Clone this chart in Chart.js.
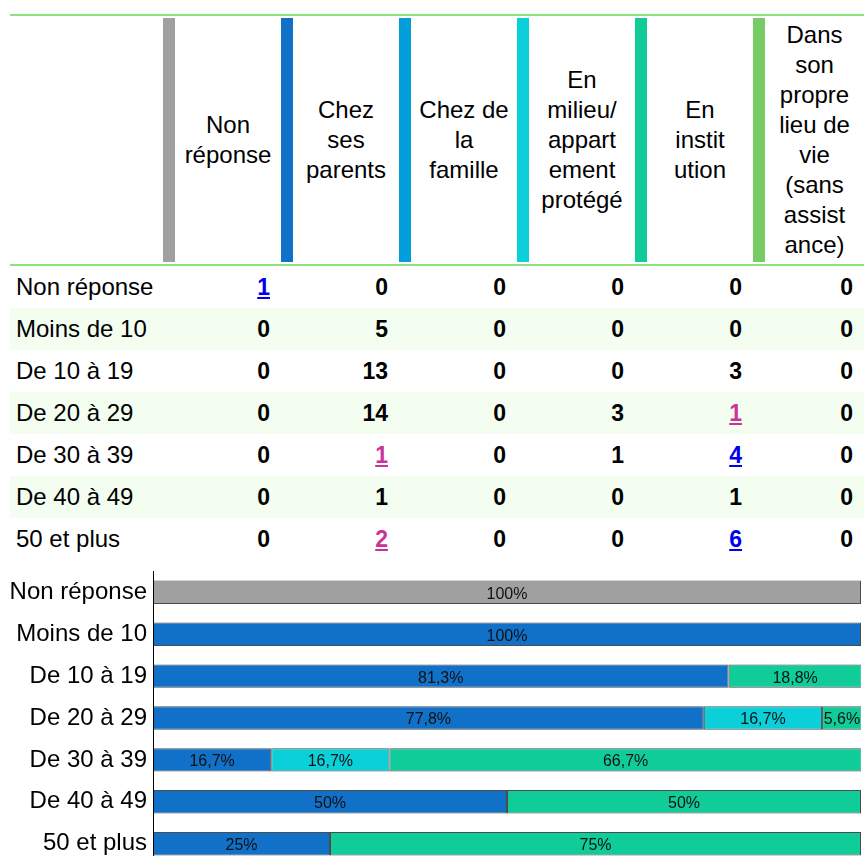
<!DOCTYPE html>
<html lang="fr">
<head>
<meta charset="utf-8">
<title>Lieu de vie par tranche d'âge</title>
<script src="https://cdn.jsdelivr.net/npm/chart.js@4/dist/chart.umd.min.js"></script>
<style>
    html, body {
        margin: 0;
        width: 864px;
        height: 856px;
        overflow: hidden;
        background: #fff;
        font-family: "Liberation Sans", Arial, sans-serif;
        color: #000;
    }
    #grid {
        position: absolute;
        left: 10px;
        top: 14px;
        width: 854px;
        border-collapse: collapse;
        table-layout: fixed;
        font-size: 24px;
    }
    #grid th {
        border-top: 2px solid #8fe07f;
        border-bottom: 2px solid #8fe07f;
        padding: 2px 0;
        font-weight: normal;
        vertical-align: top;
    }
    .head {
        display: flex;
        height: 244px;
    }
    .head .bar {
        width: 12px;
        flex: none;
    }
    .head .txt {
        flex: 1;
        display: flex;
        align-items: center;
        justify-content: center;
        text-align: center;
        line-height: 30px;
    }
    #grid td {
        height: 42px;
        padding: 0 11px 0 0;
        text-align: right;
        font-weight: bold;
        font-size: 23px;
    }
    #grid td.lbl {
        padding: 0 0 0 6px;
        text-align: left;
        font-weight: normal;
        font-size: 24px;
    }
    #grid tbody tr:nth-child(even) td {
        background: #f3fdf0;
    }
    #grid a {
        text-decoration: underline;
    }
    #grid a.blue { color: #0000ee; }
    #grid a.pink { color: #cc3399; }
    /* the y scale reserves ~20px above and below for its first/last labels */
    #chartBox {
        position: absolute;
        left: 0;
        top: 551px;
        width: 864px;
        height: 334px;
    }
</style>
</head>
<body>
<table id="grid">
    <colgroup>
        <col style="width:153px">
        <col style="width:118px"><col style="width:118px"><col style="width:118px">
        <col style="width:118px"><col style="width:118px"><col style="width:111px">
    </colgroup>
    <thead><tr id="headRow"><th></th></tr></thead>
    <tbody id="bodyRows"></tbody>
</table>
<div id="chartBox"><canvas id="lieuChart"></canvas></div>

<script>
// Tranches d'âge (lignes) et lieux de vie (colonnes)
const ageGroups = ['Non réponse', 'Moins de 10', 'De 10 à 19', 'De 20 à 29', 'De 30 à 39', 'De 40 à 49', '50 et plus'];
const headerLines = [
    ['Non', 'réponse'],
    ['Chez', 'ses', 'parents'],
    ['Chez de', 'la', 'famille'],
    ['En', 'milieu/', 'appart', 'ement', 'protégé'],
    ['En', 'instit', 'ution'],
    ['Dans', 'son', 'propre', 'lieu de', 'vie', '(sans', 'assist', 'ance)']
];

// Effectifs par lieu de vie
const nonReponse     = [1, 0, 0, 0, 0, 0, 0];
const chezParents    = [0, 5, 13, 14, 1, 1, 2];
const chezFamille    = [0, 0, 0, 0, 0, 0, 0];
const milieuProtege  = [0, 0, 0, 3, 1, 0, 0];
const enInstitution  = [0, 0, 3, 1, 4, 1, 6];
const lieuPropre     = [0, 0, 0, 0, 0, 0, 0];

// Répartition en % par tranche d'âge
const pctNonReponse    = [100, 0, 0, 0, 0, 0, 0];
const pctChezParents   = [0, 100, 81.3, 77.8, 16.7, 50, 25];
const pctChezFamille   = [0, 0, 0, 0, 0, 0, 0];
const pctMilieu        = [0, 0, 0, 16.7, 16.7, 0, 0];
const pctInstitution   = [0, 0, 18.8, 5.6, 66.7, 50, 75];
const pctLieuPropre    = [0, 0, 0, 0, 0, 0, 0];

const colors = ['#a0a0a0', '#1170c8', '#049fda', '#0bcfd9', '#10cc99', '#77cc66'];

// cellules cliquables : "ligne,colonne" -> style du lien
const linkCells = {
    '0,0': 'blue', '4,1': 'pink', '6,1': 'pink',
    '3,4': 'pink', '4,4': 'blue', '6,4': 'blue'
};

const counts = [nonReponse, chezParents, chezFamille, milieuProtege, enInstitution, lieuPropre];
const percents = [pctNonReponse, pctChezParents, pctChezFamille, pctMilieu, pctInstitution, pctLieuPropre];

// --- tableau ---
const headRow = document.getElementById('headRow');
headerLines.forEach((lines, i) => {
    const th = document.createElement('th');
    th.innerHTML = '<div class="head"><span class="bar" style="background:' + colors[i] + '"></span>' +
        '<div class="txt"><div>' + lines.join('<br>') + '</div></div></div>';
    headRow.appendChild(th);
});

const bodyRows = document.getElementById('bodyRows');
ageGroups.forEach((age, r) => {
    const tr = document.createElement('tr');
    let html = '<td class="lbl">' + age + '</td>';
    counts.forEach((col, c) => {
        const link = linkCells[r + ',' + c];
        const v = col[r];
        html += '<td>' + (link ? '<a href="#" class="' + link + '">' + v + '</a>' : v) + '</td>';
    });
    tr.innerHTML = html;
    bodyRows.appendChild(tr);
});

// --- graphique ---
const fmtPct = (v) => String(v).replace('.', ',') + '%';

const barLabels = {
    id: 'barLabels',
    afterDatasetsDraw(chart) {
        const { ctx } = chart;
        ctx.save();
        ctx.font = '16px "Liberation Sans", Arial, sans-serif';
        ctx.fillStyle = '#111';
        ctx.textAlign = 'center';
        ctx.textBaseline = 'middle';
        chart.data.datasets.forEach((ds, i) => {
            const meta = chart.getDatasetMeta(i);
            meta.data.forEach((bar, j) => {
                const v = ds.data[j];
                if (!v) return;
                const p = bar.getCenterPoint();
                ctx.fillText(fmtPct(v), p.x, p.y + 2);
            });
        });
        ctx.restore();
    }
};

new Chart(document.getElementById('lieuChart'), {
    type: 'bar',
    data: {
        labels: ageGroups,
        datasets: percents.map((data, i) => ({
            label: headerLines[i].join(' '),
            // empty segments are skipped rather than drawn at zero width
            data: data.map((v) => (v ? v : null)),
            backgroundColor: colors[i],
            borderColor: 'rgba(0, 0, 0, 0.7)',
            borderWidth: 1,
            borderSkipped: false,
            categoryPercentage: 1,
            barPercentage: 0.56
        }))
    },
    options: {
        indexAxis: 'y',
        responsive: true,
        maintainAspectRatio: false,
        animation: false,
        layout: { padding: { left: 0, right: 3, top: 0, bottom: 0 } },
        plugins: {
            legend: { display: false },
            tooltip: { enabled: false }
        },
        scales: {
            x: {
                stacked: true,
                min: 0,
                max: 100,
                display: false
            },
            y: {
                stacked: true,
                grid: { display: false, drawTicks: false },
                border: { display: true, color: '#000', width: 1 },
                ticks: {
                    color: '#000',
                    padding: 6,
                    font: { family: '"Liberation Sans", Arial, sans-serif', size: 24 }
                },
                afterFit: (scale) => { scale.width = 153; }
            }
        }
    },
    plugins: [barLabels]
});
</script>
</body>
</html>
